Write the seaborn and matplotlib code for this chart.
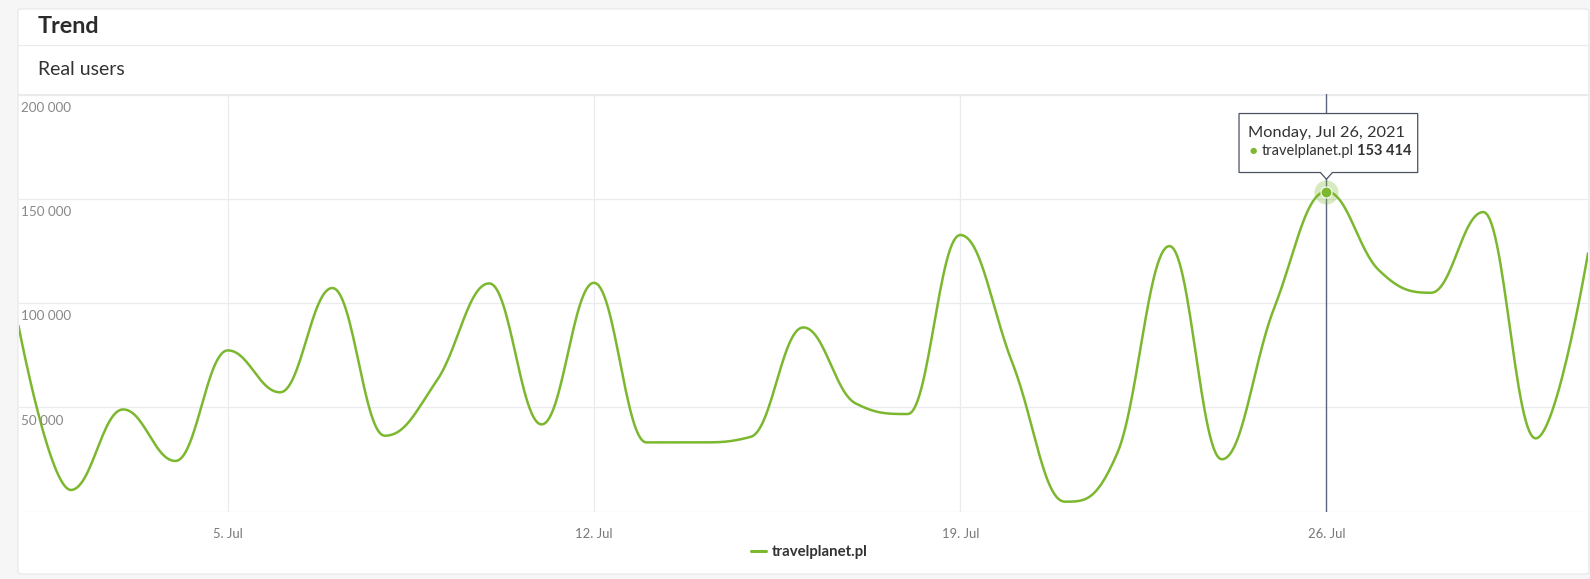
import numpy as np
import pandas as pd
import seaborn as sns
import matplotlib.pyplot as plt
from matplotlib.patches import FancyBboxPatch, Polygon
from matplotlib.lines import Line2D
from matplotlib.transforms import IdentityTransform

# dane: dzienni uzytkownicy, lipiec 2021
days = list(range(1, 32))
users = [89100, 10400, 49000, 24300, 77300, 57200, 107200, 36400, 63000, 109400,
         41800, 109700, 33200, 33200, 35900, 88300, 51900, 46800, 132600, 71100,
         4800, 27900, 127300, 25100, 97500, 153414, 115800, 104900, 143600, 35100,
         123800]
tick_days = [5, 12, 19, 26]
tick_labels = ["5. Jul", "12. Jul", "19. Jul", "26. Jul"]
y_ticks = [0, 50000, 100000, 150000, 200000]
series_name = "travelplanet.pl"
hover_day = 26

GREEN = "#7cb82f"
GRID = "#e9ebef"
W, H = 1590, 579


def spline(xs, ys, n=30):
    # wygladzanie jak w highcharts (spline)
    pts = list(zip(xs, ys))
    left = [None] * len(pts)
    right = [None] * len(pts)
    sm, den = 1.5, 2.5
    for i in range(1, len(pts) - 1):
        px, py = pts[i]
        lx, ly = pts[i - 1]
        nx, ny = pts[i + 1]
        lcx, lcy = (sm * px + lx) / den, (sm * py + ly) / den
        rcx, rcy = (sm * px + nx) / den, (sm * py + ny) / den
        corr = 0
        if rcx != lcx:
            corr = (rcy - lcy) * (rcx - px) / (rcx - lcx) + py - rcy
        lcy += corr
        rcy += corr
        if lcy > ly and lcy > py:
            lcy = max(ly, py); rcy = 2 * py - lcy
        elif lcy < ly and lcy < py:
            lcy = min(ly, py); rcy = 2 * py - lcy
        if rcy > ny and rcy > py:
            rcy = max(ny, py); lcy = 2 * py - rcy
        elif rcy < ny and rcy < py:
            rcy = min(ny, py); lcy = 2 * py - rcy
        left[i] = (lcx, lcy)
        right[i] = (rcx, rcy)
    t = np.linspace(0, 1, n)
    ox, oy = [], []
    for i in range(1, len(pts)):
        p0, p3 = pts[i - 1], pts[i]
        p1 = right[i - 1] or p0
        p2 = left[i] or p3
        bx = (1 - t) ** 3 * p0[0] + 3 * (1 - t) ** 2 * t * p1[0] + 3 * (1 - t) * t ** 2 * p2[0] + t ** 3 * p3[0]
        by = (1 - t) ** 3 * p0[1] + 3 * (1 - t) ** 2 * t * p1[1] + 3 * (1 - t) * t ** 2 * p2[1] + t ** 3 * p3[1]
        s = 0 if i == 1 else 1
        ox.extend(bx[s:]); oy.extend(by[s:])
    return np.array(ox), np.array(oy)


sns.set_style("white")
plt.rcParams['font.family'] = ['Lato', 'DejaVu Sans']

fig = plt.figure(figsize=(W / 100, H / 100), dpi=100, facecolor="#f6f6f7")

# karta
card = FancyBboxPatch((18 / W, 1 - 574 / H), (1589 - 18) / W, (574 - 9) / H,
                      boxstyle="round,pad=0,rounding_size=0.003",
                      transform=fig.transFigure, facecolor="white",
                      edgecolor="#e6e6e6", lw=0.8, zorder=-2)
fig.add_artist(card)
for yy in (45.3, 94.7):
    fig.add_artist(Line2D([18 / W, 1589 / W], [1 - yy / H] * 2,
                          transform=fig.transFigure, color="#ebebeb", lw=0.9, zorder=-1))

fig.text(37.7 / W, 1 - 33.3 / H, "Trend", fontsize=16.8, fontweight="bold",
         color="#2b2b2b", va="baseline")
fig.text(37.7 / W, 1 - 75 / H, "Real users", fontsize=14, color="#333333", va="baseline")

ax = fig.add_axes([18.5 / W, 1 - 511.7 / H, (1588 - 18.5) / W, (511.7 - 94.3) / H])
ax.set_facecolor("none")

cx, cy = spline(days, users)
sns.lineplot(x=cx, y=cy, sort=False, estimator=None, color=GREEN, lw=1.8,
             label=series_name, ax=ax, zorder=3)

ax.set_xlim(days[0], days[-1])
ax.set_ylim(y_ticks[0], y_ticks[-1])
ax.set_xticks(tick_days)
ax.set_xticklabels(tick_labels)
ax.set_yticks(y_ticks)
ax.set_yticklabels([])
ax.grid(True, color=GRID, lw=0.9)
ax.tick_params(axis="x", length=8, color=GRID, width=0.9, pad=3.5,
               labelsize=9.4, labelcolor="#777777")
ax.tick_params(axis="y", length=0)
for s in ax.spines.values():
    s.set_visible(False)
ax.set_xlabel("")
ax.set_ylabel("")

for v in y_ticks[1:]:
    ax.annotate(f"{v:,}".replace(",", " "), xy=(0, v), xycoords=("axes fraction", "data"),
                xytext=(2.5, -17.5), textcoords="offset pixels",
                fontsize=9.7, color="#888888", va="baseline", ha="left")

# legenda
leg = ax.legend(loc="center", bbox_to_anchor=(809.5 / W, 1 - 552 / H),
                bbox_transform=fig.transFigure, frameon=False, fontsize=10.8,
                handlelength=1.0, handletextpad=0.4)
for txt in leg.get_texts():
    txt.set_fontweight("bold")
    txt.set_color("#333333")
for ln in leg.get_lines():
    ln.set_linewidth(2.2)

# hover: linia, punkt, tooltip
hv = users[days.index(hover_day)]
ax.axvline(hover_day, color="#5c667c", lw=1.0, zorder=2)
ax.scatter([hover_day], [hv], s=300, color=GREEN, alpha=0.3, lw=0, zorder=5)
ax.scatter([hover_day], [hv], s=63, color=GREEN, edgecolor="white", lw=0.8, zorder=6)

px, py = ax.transData.transform((hover_day, hv))
L, R, T, B, tip = -87.4, 91.3, -78, -19, -12.3
box = [(L, T), (R, T), (R, B), (6, B), (0, tip), (-6, B), (L, B)]
poly = Polygon([(px + dx, py - dy) for dx, dy in box], closed=True,
               transform=IdentityTransform(), facecolor="white",
               edgecolor="#4a5161", lw=0.9, zorder=10, clip_on=False)
ax.add_patch(poly)

date_str = pd.Timestamp(2021, 7, hover_day).strftime("%A, %b %d, %Y")
ax.annotate(date_str, xy=(hover_day, hv), xytext=(-78.4, 55), textcoords="offset pixels",
            fontsize=11.8, color="#333333", va="baseline", ha="left", zorder=11,
            annotation_clip=False)
ax.annotate("\u25cf", xy=(hover_day, hv), xytext=(-73.4, 40.6), textcoords="offset pixels",
            fontsize=6, color=GREEN, va="center", ha="center", zorder=11,
            family=["DejaVu Sans"], annotation_clip=False)
t1 = ax.annotate(series_name, xy=(hover_day, hv), xytext=(-65, 36.3), textcoords="offset pixels",
                 fontsize=10.5, color="#333333", va="baseline", ha="left", zorder=11,
                 annotation_clip=False)
ax.annotate(f"{hv:,}".replace(",", " "), xy=(1, 0), xycoords=t1, xytext=(3.5, 0),
            textcoords="offset pixels", fontsize=10.5, fontweight="bold", color="#333333",
            va="bottom", ha="left", zorder=11, annotation_clip=False)

fig.savefig("out.png", dpi=100, facecolor=fig.get_facecolor())
